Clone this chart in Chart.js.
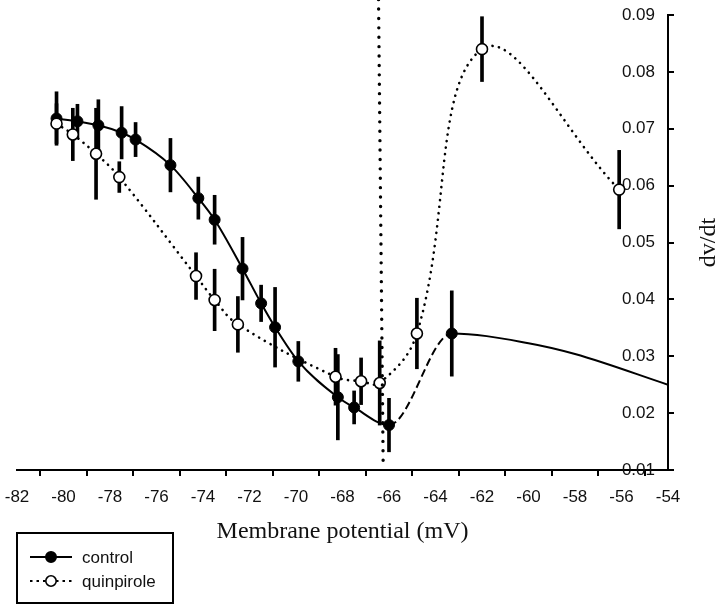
<!DOCTYPE html>
<html>
<head>
<meta charset="utf-8">
<script src="https://cdn.jsdelivr.net/npm/chart.js@4.4.1/dist/chart.umd.min.js"></script>
<style>
  html, body { margin: 0; padding: 0; background: #fff; }
</style>
</head>
<body>
<canvas id="grafica" width="720" height="608"></canvas>
<script>
// membrane potential (mV) / dv/dt
const controlX   = [-80.3, -79.4, -78.5, -77.5, -76.9, -75.4, -74.2, -73.5, -72.3, -71.5, -70.9, -69.9, -68.2, -67.5, -66.0, -63.3];
const controlY   = [0.0718, 0.0713, 0.0706, 0.0693, 0.0681, 0.0636, 0.0578, 0.0540, 0.0454, 0.0393, 0.0351, 0.0291, 0.0228, 0.0210, 0.0179, 0.0340];
const controlErr = [0.0047, 0.0030, 0.0045, 0.0046, 0.0030, 0.0047, 0.0037, 0.0043, 0.0055, 0.0032, 0.0070, 0.0035, 0.0075, 0.0029, 0.0047, 0.0075];

// tail of the fitted control curve (no markers)
const controlFitX = [-60, -58, -54];
const controlFitY = [0.0323, 0.0304, 0.0250];

const quinX   = [-80.3, -79.6, -78.6, -77.6, -74.3, -73.5, -72.5, -68.3, -67.2, -66.4, -64.8, -62.0, -56.1];
const quinY   = [0.0709, 0.0690, 0.0656, 0.0615, 0.0441, 0.0399, 0.0356, 0.0264, 0.0256, 0.0253, 0.0340, 0.0840, 0.0593];
const quinErr = [0.0035, 0.0046, 0.0080, 0.0027, 0.0041, 0.0054, 0.0049, 0.0050, 0.0041, 0.0074, 0.0062, 0.0057, 0.0069];

// dotted boundary line (slightly tilted in the original)
const boundaryX = [-66.45, -66.25];
const boundaryY = [0.0927, 0.0105];

const xTitle = 'Membrane potential (mV)';
const yTitle = 'dv/dt';
const seriesLabels = ['control', 'quinpirole'];

const INK = '#000';
const TEXT = '#111';

const puntos = (xs, ys) => xs.map((x, i) => ({ x: x, y: ys[i] }));
const barras = (xs, ys, es) => xs.map((x, i) => ({ x: x, y: [ys[i] - es[i], ys[i] + es[i]] }));

const lineaLimite = {
    id: 'lineaLimite',
    afterDatasetsDraw(chart) {
        const { ctx, scales: { x, y } } = chart;
        ctx.save();
        ctx.strokeStyle = INK;
        ctx.lineWidth = 3.4;
        ctx.lineCap = 'round';
        ctx.setLineDash([0, 9.4]);
        ctx.beginPath();
        ctx.moveTo(x.getPixelForValue(boundaryX[0]), y.getPixelForValue(boundaryY[0]));
        ctx.lineTo(x.getPixelForValue(boundaryX[1]), y.getPixelForValue(boundaryY[1]));
        ctx.stroke();
        ctx.restore();
    }
};

const tituloY = {
    id: 'tituloY',
    afterDraw(chart) {
        const { ctx, chartArea, scales: { y } } = chart;
        ctx.save();
        ctx.translate(y.right - 11, (chartArea.top + chartArea.bottom) / 2);
        ctx.rotate(-Math.PI / 2);
        ctx.font = '24px "Liberation Serif"';
        ctx.fillStyle = TEXT;
        ctx.textAlign = 'center';
        ctx.textBaseline = 'middle';
        ctx.fillText(yTitle, 0, 0);
        ctx.restore();
    }
};

const leyendaCaja = {
    id: 'leyendaCaja',
    afterDraw(chart) {
        const { ctx } = chart;
        const left = 17, top = 533, w = 156, h = 70;
        ctx.save();
        ctx.strokeStyle = INK;
        ctx.lineWidth = 2;
        ctx.strokeRect(left, top, w, h);
        ctx.font = '17px "Liberation Sans"';
        ctx.textBaseline = 'middle';
        ctx.fillStyle = TEXT;
        seriesLabels.forEach((label, i) => {
            const yy = top + 24 + i * 24;
            ctx.beginPath();
            ctx.lineWidth = 2;
            ctx.setLineDash(i === 0 ? [] : [2.5, 4]);
            ctx.moveTo(30, yy);
            ctx.lineTo(72, yy);
            ctx.stroke();
            ctx.setLineDash([]);
            ctx.beginPath();
            ctx.arc(51, yy, 5.2, 0, Math.PI * 2);
            ctx.fillStyle = i === 0 ? INK : '#fff';
            ctx.fill();
            ctx.lineWidth = 1.6;
            ctx.stroke();
            ctx.fillStyle = TEXT;
            ctx.fillText(label, 82, yy + 1);
        });
        ctx.restore();
    }
};

new Chart(document.getElementById('grafica'), {
    type: 'line',
    data: {
        datasets: [{
            type: 'line',
            label: seriesLabels[1],
            data: puntos(quinX, quinY),
            borderColor: INK,
            borderWidth: 2.6,
            borderDash: [0.1, 6.5],
            borderCapStyle: 'round',
            tension: 0.4,
            pointRadius: 5.5,
            pointBackgroundColor: '#fff',
            pointBorderColor: INK,
            pointBorderWidth: 1.6,
            order: 0
        }, {
            type: 'line',
            label: seriesLabels[0],
            data: puntos(controlX.concat(controlFitX), controlY.concat(controlFitY)),
            borderColor: INK,
            borderWidth: 2,
            cubicInterpolationMode: 'monotone',
            pointRadius: ctx => ctx.dataIndex < controlX.length ? 5.5 : 0,
            pointBackgroundColor: INK,
            pointBorderColor: INK,
            pointBorderWidth: 1,
            segment: {
                borderDash: ctx => ctx.p0DataIndex === controlX.length - 2 ? [8, 4] : undefined
            },
            order: 1
        }, {
            type: 'bar',
            label: 'quinpirole SEM',
            data: barras(quinX, quinY, quinErr),
            backgroundColor: INK,
            barThickness: 3,
            grouped: false,
            order: 2
        }, {
            type: 'bar',
            label: 'control SEM',
            data: barras(controlX, controlY, controlErr),
            backgroundColor: INK,
            barThickness: 3,
            grouped: false,
            order: 3
        }]
    },
    options: {
        responsive: false,
        animation: false,
        events: [],
        layout: { padding: { left: 17, top: 15, right: 0, bottom: 0 } },
        scales: {
            x: {
                type: 'linear',
                min: -82,
                max: -54,
                offset: false,
                ticks: {
                    stepSize: 2,
                    autoSkip: false,
                    maxRotation: 0,
                    padding: 11,
                    color: TEXT,
                    font: { family: 'Liberation Sans', size: 17 }
                },
                grid: { drawOnChartArea: false, tickLength: 6, color: INK, lineWidth: 2 },
                border: { color: INK, width: 2 },
                title: {
                    display: true,
                    text: xTitle,
                    color: TEXT,
                    font: { family: 'Liberation Serif', size: 24 },
                    padding: { top: 4, bottom: 62 }
                },
                afterFit: s => {
                    s.height = 138;
                    s.paddingLeft = 0;
                    s.paddingRight = 0;
                }
            },
            y: {
                type: 'linear',
                position: 'right',
                min: 0.01,
                max: 0.09,
                ticks: {
                    stepSize: 0.01,
                    mirror: true,
                    padding: -13,
                    color: TEXT,
                    font: { family: 'Liberation Sans', size: 17 },
                    callback: v => v.toFixed(2)
                },
                grid: { drawOnChartArea: false, tickLength: 6, color: INK, lineWidth: 2 },
                border: { color: INK, width: 2 },
                afterFit: s => {
                    s.width = 52;
                    s.paddingTop = 0;
                    s.paddingBottom = 0;
                }
            }
        },
        plugins: {
            legend: { display: false },
            tooltip: { enabled: false }
        }
    },
    plugins: [lineaLimite, tituloY, leyendaCaja]
});
</script>
</body>
</html>
